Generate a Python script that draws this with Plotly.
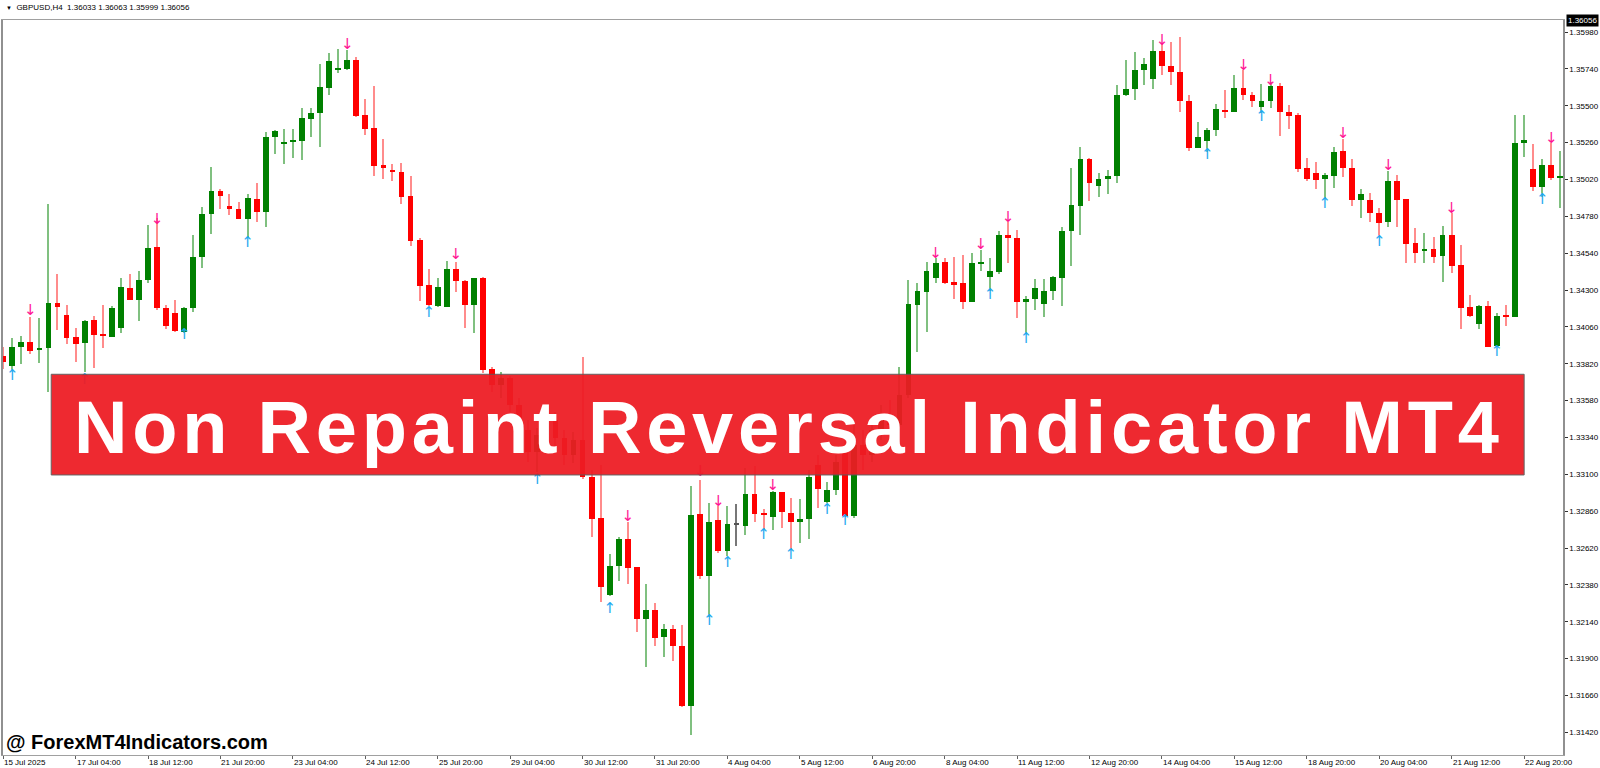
import plotly.graph_objects as go

# ========================= DATA =========================
# GBPUSD H4, one entry per bar (bar 0 = 15 Jul 2025 20:00)
opens = [
    1.33870, 1.33805, 1.33931, 1.33962, 1.33908, 1.33920, 1.34216, 1.34135, 1.33996, 1.33953,
    1.34105, 1.34009, 1.33996, 1.34055, 1.34313, 1.34235, 1.34363, 1.34578, 1.34185, 1.34150,
    1.34027, 1.34183, 1.34517, 1.34795, 1.34948, 1.34845, 1.34828, 1.34765, 1.34896, 1.34808,
    1.35299, 1.35249, 1.35269, 1.35271, 1.35416, 1.35453, 1.35618, 1.35738, 1.35740, 1.35798,
    1.35440, 1.35353, 1.35112, 1.35082, 1.35069, 1.34912, 1.34626, 1.34333, 1.34198, 1.34192,
    1.34435, 1.34361, 1.34202, 1.34378, 1.33786, 1.33682, 1.33727, 1.33551, 1.33388, 1.33245,
    1.33356, 1.33454, 1.33336, 1.33226, 1.33323, 1.33082, 1.32813, 1.32314, 1.32503, 1.32679,
    1.32494, 1.32156, 1.32216, 1.32042, 1.32092, 1.31982, 1.31593, 1.32839, 1.32440, 1.32802,
    1.32602, 1.32770, 1.32765, 1.32970, 1.32846, 1.32820, 1.32983, 1.32850, 1.32791, 1.32807,
    1.33161, 1.32921, 1.32998, 1.33258, 1.32828, 1.33291, 1.33226, 1.33388, 1.33486, 1.33421,
    1.33616, 1.34202, 1.34289, 1.34376, 1.34481, 1.34350, 1.34344, 1.34224, 1.34470, 1.34383,
    1.34419, 1.34658, 1.34637, 1.34224, 1.34240, 1.34207, 1.34296, 1.34380, 1.34685, 1.34849,
    1.35152, 1.34980, 1.35023, 1.35045, 1.35570, 1.35607, 1.35733, 1.35675, 1.35859, 1.35759,
    1.35722, 1.35531, 1.35227, 1.35271, 1.35342, 1.35473, 1.35462, 1.35614, 1.35570, 1.35494,
    1.35531, 1.35629, 1.35462, 1.35440, 1.35093, 1.35064, 1.35021, 1.35045, 1.35206, 1.35097,
    1.34886, 1.34886, 1.34800, 1.34741, 1.35010, 1.34891, 1.34604, 1.34556, 1.34565, 1.34522,
    1.34658, 1.34463, 1.34188, 1.34078, 1.34198, 1.33936, 1.34135, 1.34126, 1.35256, 1.35086,
    1.34973, 1.35114, 1.35028,
]
highs = [
    1.33931, 1.33986, 1.34001, 1.34124, 1.34120, 1.34860, 1.34402, 1.34202, 1.34051, 1.34105,
    1.34133, 1.34202, 1.34196, 1.34380, 1.34402, 1.34424, 1.34724, 1.34767, 1.34202, 1.34235,
    1.34191, 1.34660, 1.34839, 1.35103, 1.34958, 1.34925, 1.34871, 1.34924, 1.34995, 1.35327,
    1.35342, 1.35349, 1.35349, 1.35486, 1.35486, 1.35770, 1.35842, 1.35870, 1.35863, 1.35820,
    1.35544, 1.35629, 1.35282, 1.35119, 1.35125, 1.35045, 1.34637, 1.34437, 1.34376, 1.34491,
    1.34483, 1.34365, 1.34380, 1.34385, 1.33799, 1.33766, 1.33740, 1.33597, 1.33454, 1.33401,
    1.33519, 1.33506, 1.33388, 1.33375, 1.33864, 1.33128, 1.33161, 1.32579, 1.32694, 1.32789,
    1.32496, 1.32385, 1.32260, 1.32123, 1.32118, 1.32118, 1.33026, 1.33063, 1.32915, 1.32893,
    1.32893, 1.32906, 1.33141, 1.33154, 1.32872, 1.32993, 1.32985, 1.32944, 1.32939, 1.33128,
    1.33226, 1.33052, 1.33226, 1.33323, 1.33421, 1.33388, 1.33421, 1.33551, 1.33584, 1.33801,
    1.34365, 1.34344, 1.34481, 1.34507, 1.34507, 1.34513, 1.34528, 1.34539, 1.34562, 1.34507,
    1.34685, 1.34745, 1.34691, 1.34263, 1.34370, 1.34370, 1.34391, 1.34713, 1.35097, 1.35234,
    1.35158, 1.35064, 1.35082, 1.35633, 1.35798, 1.35852, 1.35813, 1.35929, 1.35902, 1.35914,
    1.35950, 1.35570, 1.35396, 1.35353, 1.35512, 1.35603, 1.35701, 1.35733, 1.35592, 1.35642,
    1.35657, 1.35646, 1.35505, 1.35453, 1.35158, 1.35136, 1.35064, 1.35234, 1.35282, 1.35152,
    1.34956, 1.34930, 1.34832, 1.35077, 1.35049, 1.34893, 1.34706, 1.34670, 1.34647, 1.34717,
    1.34800, 1.34593, 1.34269, 1.34202, 1.34229, 1.34149, 1.34202, 1.35440, 1.35440, 1.35249,
    1.35152, 1.35258, 1.35206,
]
lows = [
    1.33784, 1.33779, 1.33816, 1.33883, 1.33827, 1.33636, 1.34040, 1.33948, 1.33831, 1.33766,
    1.33794, 1.33920, 1.33994, 1.34022, 1.34235, 1.34100, 1.34344, 1.34170, 1.34048, 1.34027,
    1.34020, 1.34159, 1.34445, 1.34665, 1.34830, 1.34787, 1.34761, 1.34645, 1.34745, 1.34709,
    1.35186, 1.35121, 1.35158, 1.35147, 1.35299, 1.35234, 1.35570, 1.35712, 1.35736, 1.35425,
    1.35310, 1.35045, 1.35023, 1.35012, 1.34858, 1.34589, 1.34229, 1.34196, 1.34192, 1.34188,
    1.34289, 1.34051, 1.34018, 1.33758, 1.33636, 1.33597, 1.33506, 1.33323, 1.33180, 1.33115,
    1.33310, 1.33278, 1.33161, 1.33173, 1.33069, 1.32692, 1.32270, 1.32307, 1.32405, 1.32383,
    1.32071, 1.31843, 1.31982, 1.31912, 1.31886, 1.31584, 1.31402, 1.32416, 1.32171, 1.32585,
    1.32568, 1.32633, 1.32705, 1.32787, 1.32742, 1.32737, 1.32748, 1.32611, 1.32654, 1.32677,
    1.32878, 1.32911, 1.32965, 1.32824, 1.32815, 1.33128, 1.33180, 1.33323, 1.33375, 1.33388,
    1.33597, 1.33898, 1.34029, 1.34344, 1.34339, 1.34240, 1.34175, 1.34222, 1.34427, 1.34296,
    1.34404, 1.34478, 1.34116, 1.34012, 1.34170, 1.34126, 1.34235, 1.34196, 1.34457, 1.34658,
    1.34880, 1.34908, 1.34924, 1.34995, 1.35564, 1.35539, 1.35635, 1.35607, 1.35701, 1.35635,
    1.35462, 1.35206, 1.35225, 1.35201, 1.35303, 1.35422, 1.35460, 1.35539, 1.35494, 1.35451,
    1.35487, 1.35305, 1.35348, 1.35067, 1.35012, 1.34956, 1.34893, 1.34963, 1.35034, 1.34847,
    1.34771, 1.34741, 1.34647, 1.34713, 1.34713, 1.34474, 1.34478, 1.34474, 1.34478, 1.34350,
    1.34413, 1.34046, 1.34122, 1.34045, 1.33927, 1.33927, 1.34066, 1.34124, 1.35168, 1.34947,
    1.34908, 1.35017, 1.34832,
]
closes = [
    1.33833, 1.33927, 1.33962, 1.33905, 1.33924, 1.34216, 1.34189, 1.33990, 1.33950, 1.34100,
    1.34005, 1.34001, 1.34185, 1.34318, 1.34237, 1.34365, 1.34574, 1.34185, 1.34064, 1.34033,
    1.34185, 1.34518, 1.34797, 1.34944, 1.34914, 1.34828, 1.34765, 1.34898, 1.34808, 1.35299,
    1.35336, 1.35264, 1.35277, 1.35419, 1.35455, 1.35620, 1.35794, 1.35744, 1.35798, 1.35435,
    1.35351, 1.35108, 1.35097, 1.35071, 1.34908, 1.34621, 1.34326, 1.34202, 1.34320, 1.34435,
    1.34361, 1.34202, 1.34376, 1.33779, 1.33682, 1.33727, 1.33551, 1.33388, 1.33245, 1.33356,
    1.33454, 1.33336, 1.33226, 1.33323, 1.33082, 1.32809, 1.32364, 1.32505, 1.32679, 1.32492,
    1.32156, 1.32216, 1.32032, 1.32092, 1.31982, 1.31593, 1.32835, 1.32440, 1.32787, 1.32602,
    1.32774, 1.32770, 1.32970, 1.32841, 1.32837, 1.32983, 1.32852, 1.32791, 1.32807, 1.33084,
    1.33004, 1.32998, 1.33180, 1.32830, 1.33291, 1.33226, 1.33388, 1.33486, 1.33421, 1.33616,
    1.34207, 1.34294, 1.34427, 1.34478, 1.34348, 1.34339, 1.34224, 1.34474, 1.34478, 1.34424,
    1.34658, 1.34639, 1.34224, 1.34242, 1.34315, 1.34296, 1.34383, 1.34685, 1.34854, 1.35152,
    1.34999, 1.35021, 1.35045, 1.35570, 1.35607, 1.35733, 1.35772, 1.35859, 1.35761, 1.35718,
    1.35531, 1.35227, 1.35295, 1.35342, 1.35477, 1.35464, 1.35614, 1.35570, 1.35533, 1.35531,
    1.35631, 1.35458, 1.35435, 1.35088, 1.35023, 1.35017, 1.35049, 1.35201, 1.35093, 1.34886,
    1.34924, 1.34800, 1.34739, 1.35012, 1.34886, 1.34600, 1.34543, 1.34565, 1.34517, 1.34658,
    1.34459, 1.34185, 1.34131, 1.34198, 1.33931, 1.34131, 1.34126, 1.35256, 1.35277, 1.34973,
    1.35114, 1.35028, 1.35043,
]

# indicator signals: bar index + price where the arrow is drawn
sell_bars = [3, 17, 38, 50, 69, 77, 79, 85, 103, 108, 111, 128, 137, 140, 148, 153, 160, 171]
sell_prices = [1.34164, 1.34756, 1.35896, 1.34528, 1.32822, 1.33115, 1.32920, 1.33024, 1.34535,
               1.34593, 1.34769, 1.35922, 1.35759, 1.35661, 1.35316, 1.35105, 1.34828, 1.35284]
buy_bars = [1, 9, 20, 27, 47, 59, 67, 78, 80, 84, 87, 91, 93, 109, 113, 133, 139, 146, 152, 165, 170]
buy_prices = [1.33740, 1.33714, 1.34007, 1.34606, 1.34150, 1.33063, 1.32223, 1.32144, 1.32522,
              1.32705, 1.32574, 1.32867, 1.32796, 1.34269, 1.33981, 1.35180, 1.35424, 1.34860,
              1.34613, 1.33893, 1.34883]

# time scale labels (one every 8 bars)
time_label_bars = [0, 8, 16, 24, 32, 40, 48, 56, 64, 72, 80, 88, 96, 104, 112, 120, 128, 136,
                   144, 152, 160, 168]
time_labels = ["15 Jul 2025", "17 Jul 04:00", "18 Jul 12:00", "21 Jul 20:00", "23 Jul 04:00",
               "24 Jul 12:00", "25 Jul 20:00", "29 Jul 04:00", "30 Jul 12:00", "31 Jul 20:00",
               "4 Aug 04:00", "5 Aug 12:00", "6 Aug 20:00", "8 Aug 04:00", "11 Aug 12:00",
               "12 Aug 20:00", "14 Aug 04:00", "15 Aug 12:00", "18 Aug 20:00", "20 Aug 04:00",
               "21 Aug 12:00", "22 Aug 20:00"]

price_ticks = [1.31420, 1.31660, 1.31900, 1.32140, 1.32380, 1.32620, 1.32860, 1.33100, 1.33340,
               1.33580, 1.33820, 1.34060, 1.34300, 1.34540, 1.34780, 1.35020, 1.35260, 1.35500,
               1.35740, 1.35980]
current_price = 1.36056
header_text = "GBPUSD,H4  1.36033 1.36063 1.35999 1.36056"
# =========================================================

GREEN = "#008000"
RED = "#ff0000"
bars = list(range(len(opens)))

body_base = [min(o, c) for o, c in zip(opens, closes)]
body_size = [max(abs(c - o), 0.00008) for o, c in zip(opens, closes)]
body_colors = [GREEN if c > o else (RED if c < o else "#555555") for o, c in zip(opens, closes)]
wick_colors = ["#80c080" if c > o else ("#ff8c8c" if c < o else "#777777") for o, c in zip(opens, closes)]

fig = go.Figure()

# wicks
fig.add_trace(go.Bar(
    x=bars, base=lows, y=[h - l for h, l in zip(highs, lows)],
    width=0.12, marker=dict(color=wick_colors, line_width=0),
    showlegend=False, hoverinfo="skip"
))

# bodies
fig.add_trace(go.Bar(
    x=bars, base=body_base, y=body_size,
    width=0.64, marker=dict(color=body_colors, line_width=0),
    showlegend=False, hoverinfo="skip"
))

# signal arrows
fig.add_trace(go.Scatter(
    x=sell_bars, y=sell_prices, mode="text", text=["↓"] * len(sell_bars),
    textfont=dict(family="DejaVu Sans", size=15, color="#ff1493"),
    showlegend=False, hoverinfo="skip"
))
fig.add_trace(go.Scatter(
    x=buy_bars, y=buy_prices, mode="text", text=["↑"] * len(buy_bars),
    textfont=dict(family="DejaVu Sans", size=15, color="#1ea8f0"),
    showlegend=False, hoverinfo="skip"
))

# =========================
# BANNER + WATERMARK
# =========================
fig.add_shape(type="rect", xref="paper", yref="paper",
              x0=0.0309, x1=0.9751, y0=0.381, y1=0.518,
              fillcolor="#ed1c24", opacity=0.94, line=dict(color="#5a5a5a", width=1),
              layer="above")
fig.add_annotation(
    text="<span style='letter-spacing:4.8px'>Non Repaint Reversal Indicator MT4</span>",
    xref="paper", yref="paper", x=0.5038, y=0.4449, showarrow=False,
    font=dict(family="Liberation Sans", size=74, color="white", weight="bold")
)
fig.add_annotation(
    text="@ ForexMT4Indicators.com", xref="paper", yref="paper", x=0, y=0,
    xanchor="left", yanchor="bottom", xshift=1, showarrow=False,
    font=dict(family="Liberation Sans", size=20, color="black", weight="bold")
)

# header line + current price box
fig.add_annotation(
    text="<span style='font-size:6px'>▼</span>  " + header_text,
    xref="paper", yref="paper", x=0, y=1, xanchor="left", yanchor="bottom",
    xshift=1, yshift=6, showarrow=False,
    font=dict(family="Liberation Sans", size=8, color="black")
)
fig.add_annotation(
    text=f"{current_price:.5f}", xref="paper", yref="y", x=1, y=current_price,
    xanchor="left", xshift=3, showarrow=False, bgcolor="black", borderpad=1,
    font=dict(family="Liberation Sans", size=8, color="white")
)

# time labels start at their tick, like MT4
for b, lab in zip(time_label_bars, time_labels):
    fig.add_annotation(
        text=lab, xref="x", yref="paper", x=b, y=0, xanchor="left", yanchor="top",
        xshift=-1, yshift=-1, showarrow=False,
        font=dict(family="Liberation Sans", size=8, color="black")
    )

# =========================
# LAYOUT
# =========================
fig.update_layout(
    width=1600, height=768,
    margin=dict(l=1, r=35, t=20, b=13),
    paper_bgcolor="white", plot_bgcolor="white",
    barmode="overlay", bargap=0,
    showlegend=False,
)
fig.update_xaxes(
    range=[-0.02, 172.3], showgrid=False, zeroline=False,
    showline=True, linecolor="#a0a0a0", linewidth=1, mirror=True,
    tickmode="array", tickvals=time_label_bars, showticklabels=False,
    ticks="outside", ticklen=3, tickcolor="#606060"
)
fig.update_yaxes(
    range=[1.31272, 1.36059], side="right", showgrid=False, zeroline=False,
    showline=True, linecolor="#909090", linewidth=1.5, mirror=True,
    tickmode="array", tickvals=price_ticks, ticktext=[f"{p:.5f}" for p in price_ticks],
    ticks="outside", ticklen=3, tickcolor="#303030",
    tickfont=dict(family="Liberation Sans", size=8, color="black")
)

# page margin off so the 1600x768 figure fills the window
fig.write_html("out.html", config={"displayModeBar": False},
               post_script="document.body.style.margin='0';")
